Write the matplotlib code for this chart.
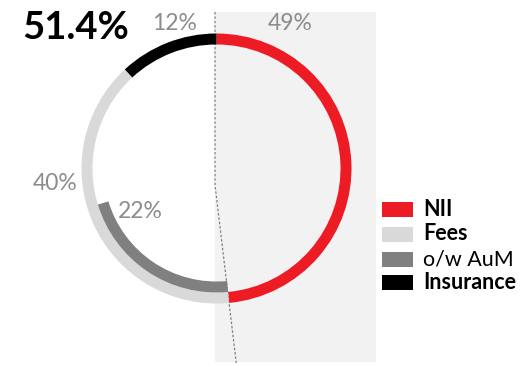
import matplotlib

matplotlib.use("Agg")

import matplotlib.pyplot as plt
from matplotlib import patches
import numpy as np

RED = "#ed1c24"
LIGHT = "#d9d9d9"
MID = "#808080"
DARK = "#000000"
LABEL = "#8c8c8c"
SHADE = "#f2f2f2"

# ring segments, clockwise from 12 o'clock
segments = ["NII", "Fees", "Insurance"]
seg_values = [49, 40, 12]
arc_colors = [RED, LIGHT, DARK]
# AuM is part of fees, drawn inside the fees arc where NII ends
aum_value = 22
headline = "51.4%"

legend_names = ["NII", "Fees", "o/w AuM", "Insurance"]
legend_colors = [RED, LIGHT, MID, DARK]
legend_bold = [True, True, False, True]

W, H = 522, 365
fig = plt.figure(figsize=(W / 100, H / 100), dpi=100)
ax = fig.add_axes([0, 0, 1, 1])
ax.set_xlim(0, W)
ax.set_ylim(0, H)
ax.axis("off")
plt.rcParams["font.family"] = ["Lato", "DejaVu Sans"]

cx, cy = 216.5, H - 168.5
r_out, ring_w = 135, 11
total = sum(seg_values)

# shaded right half
ax.add_patch(patches.Rectangle((215, H - 362), 161, 350, color=SHADE, lw=0, zorder=0))

# divider: straight down from the top, then out through the end of the NII arc
nii_end = 360 * seg_values[0] / total
end_x = cx + r_out * np.sin(np.deg2rad(nii_end))
end_y = cy + r_out * np.cos(np.deg2rad(nii_end))
kink_x, kink_y = 215, H - 185
bottom_y = H - 363
slope = (end_x - kink_x) / (kink_y - end_y)
ax.plot([215, kink_x, kink_x + slope * (kink_y - bottom_y)],
        [H - 12, kink_y, bottom_y], color=MID, lw=0.9, ls=(0, (2, 1.5)), zorder=1)


def arc(start, span, r, color):
    # start/span in degrees clockwise from 12 o'clock
    t2 = 90 - start
    t1 = t2 - span
    ax.add_patch(patches.Wedge((cx, cy), r, t1, t2, width=ring_w, color=color, lw=0, zorder=2))


start = 0.0
for val, col in zip(seg_values, arc_colors):
    span = 360 * val / total
    arc(start, span, r_out, col)
    start += span

arc(nii_end, 360 * aum_value / total, r_out - ring_w, MID)

ax.text(22, H - 28, headline, fontsize=27.5, fontweight="bold", color="black", ha="left", va="center")
lab_pos = [(290, H - 24), (55, H - 183), (175, H - 24)]
for (x, y), val in zip(lab_pos, seg_values):
    ax.text(x, y, f"{val}%", fontsize=16.5, color=LABEL, ha="center", va="center")
ax.text(140, H - 212, f"{aum_value}%", fontsize=16.5, color=LABEL, ha="center", va="center")

# legend
leg_y = [209.5, 234, 259.5, 282.5]
for y, name, col, bold in zip(leg_y, legend_names, legend_colors, legend_bold):
    ax.add_patch(patches.Rectangle((382, H - y - 7.5), 31, 15, color=col, lw=0, zorder=2))
    ax.text(423, H - y, name, fontsize=15.5, color="black", ha="left", va="center",
            fontweight="bold" if bold else "normal")

fig.savefig("out.png", dpi=100, facecolor="white")
